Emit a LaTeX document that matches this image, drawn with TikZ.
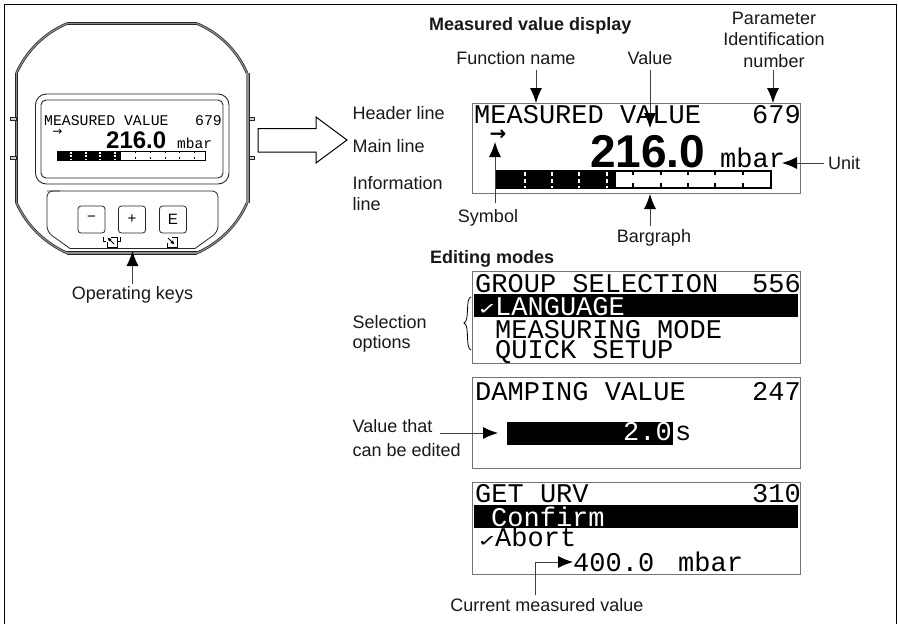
\documentclass[tikz,border=0pt]{standalone}
\usepackage{fontspec}
\setmainfont{Liberation Sans}
\newfontfamily\lcdmono{Liberation Mono}
\newfontfamily\lcdsans{Liberation Sans}[BoldFont={Liberation Sans Bold}]
\newfontfamily\symfont{DejaVu Sans}
\usetikzlibrary{arrows.meta}
\definecolor{edgegrey}{gray}{0.45}
\definecolor{shellgrey}{gray}{0.55}
\tikzset{
  x=1pt,y=-1pt,
  lbl/.style={font=\fontsize{18}{21.5}\selectfont,inner sep=0pt,text=black!90,align=center},
  lblleft/.style={lbl,align=left,anchor=base west},
  head/.style={font=\fontsize{18}{20}\selectfont\bfseries,inner sep=0pt,anchor=base west,text=black!90},
  lcd/.style={font=\fontsize{27}{27}\selectfont\lcdmono,inner sep=0pt,anchor=base west},
  lcdw/.style={lcd,text=white},
  lcdsmall/.style={font=\fontsize{14.8}{15}\selectfont\lcdmono,inner sep=0pt,anchor=base west},
  big/.style={font=\fontsize{46}{46}\selectfont\lcdsans\bfseries,inner sep=0pt,anchor=base west},
  bigsmall/.style={font=\fontsize{24}{24}\selectfont\lcdsans\bfseries,inner sep=0pt,anchor=base west},
  chk/.style={font=\fontsize{16}{16}\selectfont\symfont,inner sep=0pt,anchor=base west,xscale=1.5,transform shape},
  screen/.style={draw=edgegrey,line width=1pt},
  ptr/.style={draw=black!75,line width=.9pt,-{Latex[length=15pt,width=12pt,black]}},
  shell/.style={draw=black!85,line width=.7pt,double=shellgrey,double distance=1.2pt},
  shellthick/.style={draw=black!85,line width=.7pt,double=shellgrey,double distance=2.6pt},
  keybox/.style={draw=black!85,line width=.8pt,rounded corners=3pt},
  keyfont/.style={font=\fontsize{15}{15}\selectfont,inner sep=0pt},
}
\begin{document}
\begin{tikzpicture}
\useasboundingbox (0,0) rectangle (898,624);
\fill[white] (0,0) rectangle (898,624);
\draw[black,line width=1pt] (4.5,624) -- (4.5,4.5) -- (896,4.5) -- (896,624);

% --- device ---
\draw[shell] (67,23.5) -- (197,23.5);
\draw[shell] (67,23.5) .. controls (45,33) and (27,50) .. (16.5,73);
\draw[shell] (197,23.5) .. controls (219,33) and (237,50) .. (247,73);
\draw[shell] (16.5,73) -- (16.5,203);
\draw[shellthick] (247.5,73) -- (247.5,203);
\draw[shell] (16.5,203) .. controls (27,226) and (45,243) .. (67,253);
\draw[shell] (247,203) .. controls (237,226) and (219,243) .. (197,253);
\draw[shellthick] (67,253) -- (197,253);
\foreach \yy in {119,158}{
  \draw[black!85,line width=.6pt,fill=shellgrey!40] (10,\yy-1.5) rectangle (16,\yy+1.5);
  \draw[black!85,line width=.6pt,fill=shellgrey!40] (249,\yy-1.5) rectangle (254,\yy+1.5);
}
\draw[black!85,line width=.9pt,rounded corners=11pt] (35.5,94) rectangle (229,184);
\draw[black!85,line width=.9pt,rounded corners=5pt] (41,100) rectangle (223,178);
\node[lcdsmall] (devHead) at (44,125) {MEASURED VALUE};
\node[lcdsmall] (devNum) at (195,125) {679};
\node[font=\fontsize{12}{12}\selectfont\symfont,inner sep=0pt] (devSym) at (57.5,132) {→};
\node[bigsmall] (devVal) at (106,148) {216.0};
\node[font=\fontsize{14.5}{15}\selectfont\lcdmono,inner sep=0pt,anchor=base west] (devUnit) at (177,148) {mbar};
\fill[black] (57,151) rectangle (121,160);
\draw[black,line width=.8pt] (57,151) rectangle (205,160);
\foreach \xx in {71,86,100,115}{\draw[white,line width=1.2pt,dash pattern=on 2pt off 1.5pt] (\xx,151.5) -- (\xx,160);}
\foreach \xx in {135,150,165,179,194}{\draw[black,line width=.8pt,dash pattern=on 2pt off 4pt] (\xx,151) -- (\xx,160);}

% keys
\draw[black!85,line width=.8pt,rounded corners=6pt] (47,191) -- (218,191) -- (218,232) -- (195,248.5);
\draw[black!85,line width=.8pt] (195,248.5) -- (70,248.5);
\draw[black!85,line width=.8pt,rounded corners=6pt] (70,248.5) -- (47,232) -- (47,191) -- (60,191);
\node[keybox,minimum width=27pt,minimum height=27pt,keyfont] (keyMinus) at (91.5,219.5) {\raisebox{1pt}{−}};
\node[keybox,minimum width=27pt,minimum height=27pt,keyfont] (keyPlus) at (132,219.5) {+};
\node[keybox,minimum width=27pt,minimum height=27pt,keyfont] (keyE) at (173,219.5) {E};
\draw[black,line width=.8pt] (103,237) -- (103,241.5) -- (105.5,241.5);
\draw[black,line width=.8pt] (120.5,237) -- (120.5,241.5) -- (118,241.5);
\draw[black,line width=.7pt] (111,237) -- (117,237) -- (117,247) -- (107,247) -- (107,242);
\draw[black,line width=.9pt,-{Latex[length=4pt,width=4pt]}] (114,244) -- (107.5,237.5);
\draw[black,line width=.7pt] (172,237) -- (177,237) -- (177,247) -- (167,247) -- (167,243);
\draw[black,line width=.9pt,-{Latex[length=4pt,width=4pt]}] (168,238) -- (174.5,244.5);
\node[lbl] (lblKeys) at (132.5,295) {Operating keys};
\coordinate (keysTip) at (132.5,251);
\coordinate (keysTail) at (132.5,284);
\draw[ptr] (keysTail) -- (keysTip);

% big hollow arrow
\draw[black,line width=1pt] (258,128.5) -- (316,128.5) -- (316,117) -- (347,140) -- (316,163) -- (316,152) -- (258,152) -- cycle;

% --- titles and left labels ---
\node[head] (ttlMain) at (429,30) {Measured value display};
\node[head] (ttlEdit) at (430,263) {Editing modes};
\node[lblleft] (lblHeader) at (352.5,119.5) {Header line};
\node[lblleft] (lblMain) at (352.5,152) {Main line};
\node[lblleft] (lblInfo1) at (352.5,189) {Information};
\node[lblleft] (lblInfo2) at (352.5,210) {line};
\node[lblleft] (lblSel1) at (352.5,328) {Selection};
\node[lblleft] (lblSel2) at (352.5,348) {options};
\node[lblleft] (lblVal1) at (352.5,432) {Value that};
\node[lblleft] (lblVal2) at (352.5,456) {can be edited};

% --- main display ---
\draw[screen] (472,103) rectangle (800,193.5);
\node[lcd] (mHead) at (474,123) {MEASURED VALUE};
\node[lcd] (mNum) at (752,123) {679};
\node[font=\fontsize{20}{20}\selectfont\symfont\bfseries,inner sep=0pt] (mSym) at (498,135) {→};
\node[big] (mVal) at (590,167) {216.0};
\node[lcd] (mUnit) at (720,167) {mbar};
\fill[black] (496,171) rectangle (616,188);
\draw[black,line width=1.2pt] (496,171) rectangle (771,188);
\foreach \xx in {525,552,579,607}{\draw[white,line width=2pt,dash pattern=on 4pt off 3pt] (\xx,172) -- (\xx,188);}
\foreach \xx in {633,661,688,715,743}{\draw[black,line width=1.2pt,dash pattern=on 4pt off 8pt] (\xx,171) -- (\xx,188);}

\node[lbl,anchor=base] (lblFn) at (516,64.5) {Function name};
\node[lbl,anchor=base] (lblVal) at (650,64.5) {Value};
\node[lbl,anchor=base] (lblParam) at (774,67) {Parameter\\Identification\\number};
\node[lblleft] (lblUnit) at (828,169) {Unit};
\node[lbl,anchor=base] (lblSym) at (488,222) {Symbol};
\node[lbl,anchor=base] (lblBar) at (654,242) {Bargraph};

\coordinate (fnTail) at (536,70); \coordinate (fnTip) at (536,103);
\coordinate (valTail) at (650,70); \coordinate (valTip) at (650,128);
\coordinate (parTail) at (773,70); \coordinate (parTip) at (773,103);
\coordinate (unitTail) at (824,163); \coordinate (unitTip) at (782,163);
\coordinate (symTail) at (495,203); \coordinate (symTip) at (495,142);
\coordinate (barTail) at (650,226); \coordinate (barTip) at (650,194);
\draw[ptr] (fnTail) -- (fnTip);
\draw[ptr] (valTail) -- (valTip);
\draw[ptr] (parTail) -- (parTip);
\draw[ptr] (unitTail) -- (unitTip);
\draw[ptr] (symTail) -- (symTip);
\draw[ptr] (barTail) -- (barTip);

% --- group selection ---
\draw[screen] (472,271) rectangle (800,363);
\node[lcd] (gHead) at (475,292) {GROUP SELECTION};
\node[lcd] (gNum) at (752,292) {556};
\fill[black] (474,294) rectangle (798,317);
\node[chk,text=white] (gChk) at (477,314) {✓};
\node[lcdw] (gLang) at (495,315) {LANGUAGE};
\node[lcd] (gMeas) at (495,338) {MEASURING MODE};
\node[lcd] (gQuick) at (495,358) {QUICK SETUP};
\draw[black,line width=.8pt] (471,297) .. controls (465,298) and (470,321) .. (464,323)
  .. controls (470,325) and (465,349) .. (471,350);

% --- damping value ---
\draw[screen] (472,377) rectangle (800,468);
\node[lcd] (dHead) at (475,400) {DAMPING VALUE};
\node[lcd] (dNum) at (752,400) {247};
\fill[black] (507,422) rectangle (673,445);
\node[lcdw] (dVal) at (623,440) {2.0};
\node[lcd] (dUnit) at (675,440) {s};
\coordinate (edTail) at (440,433); \coordinate (edTip) at (498,433);
\draw[ptr] (edTail) -- (edTip);

% --- get urv ---
\draw[screen] (472,482) rectangle (800,574);
\node[lcd] (uHead) at (475,502) {GET URV};
\node[lcd] (uNum) at (752,502) {310};
\fill[black] (474,505) rectangle (798,528);
\node[lcdw] (uConf) at (491,526) {Confirm};
\node[chk] (uChk) at (477,546) {✓};
\node[lcd] (uAbort) at (495,546) {Abort};
\node[lcd] (uVal) at (573,571) {400.0};
\node[lcd] (uUnit) at (678,571) {mbar};
\node[lbl,anchor=base] (lblCur) at (547,611) {Current measured value};
\coordinate (curTail) at (535,595); \coordinate (curBend) at (535,562); \coordinate (curTip) at (573,562);
\draw[draw=black!75,line width=.9pt,-{Latex[length=15pt,width=12pt,black]}] (curTail) -- (curBend) -- (curTip);
\end{tikzpicture}
\end{document}
